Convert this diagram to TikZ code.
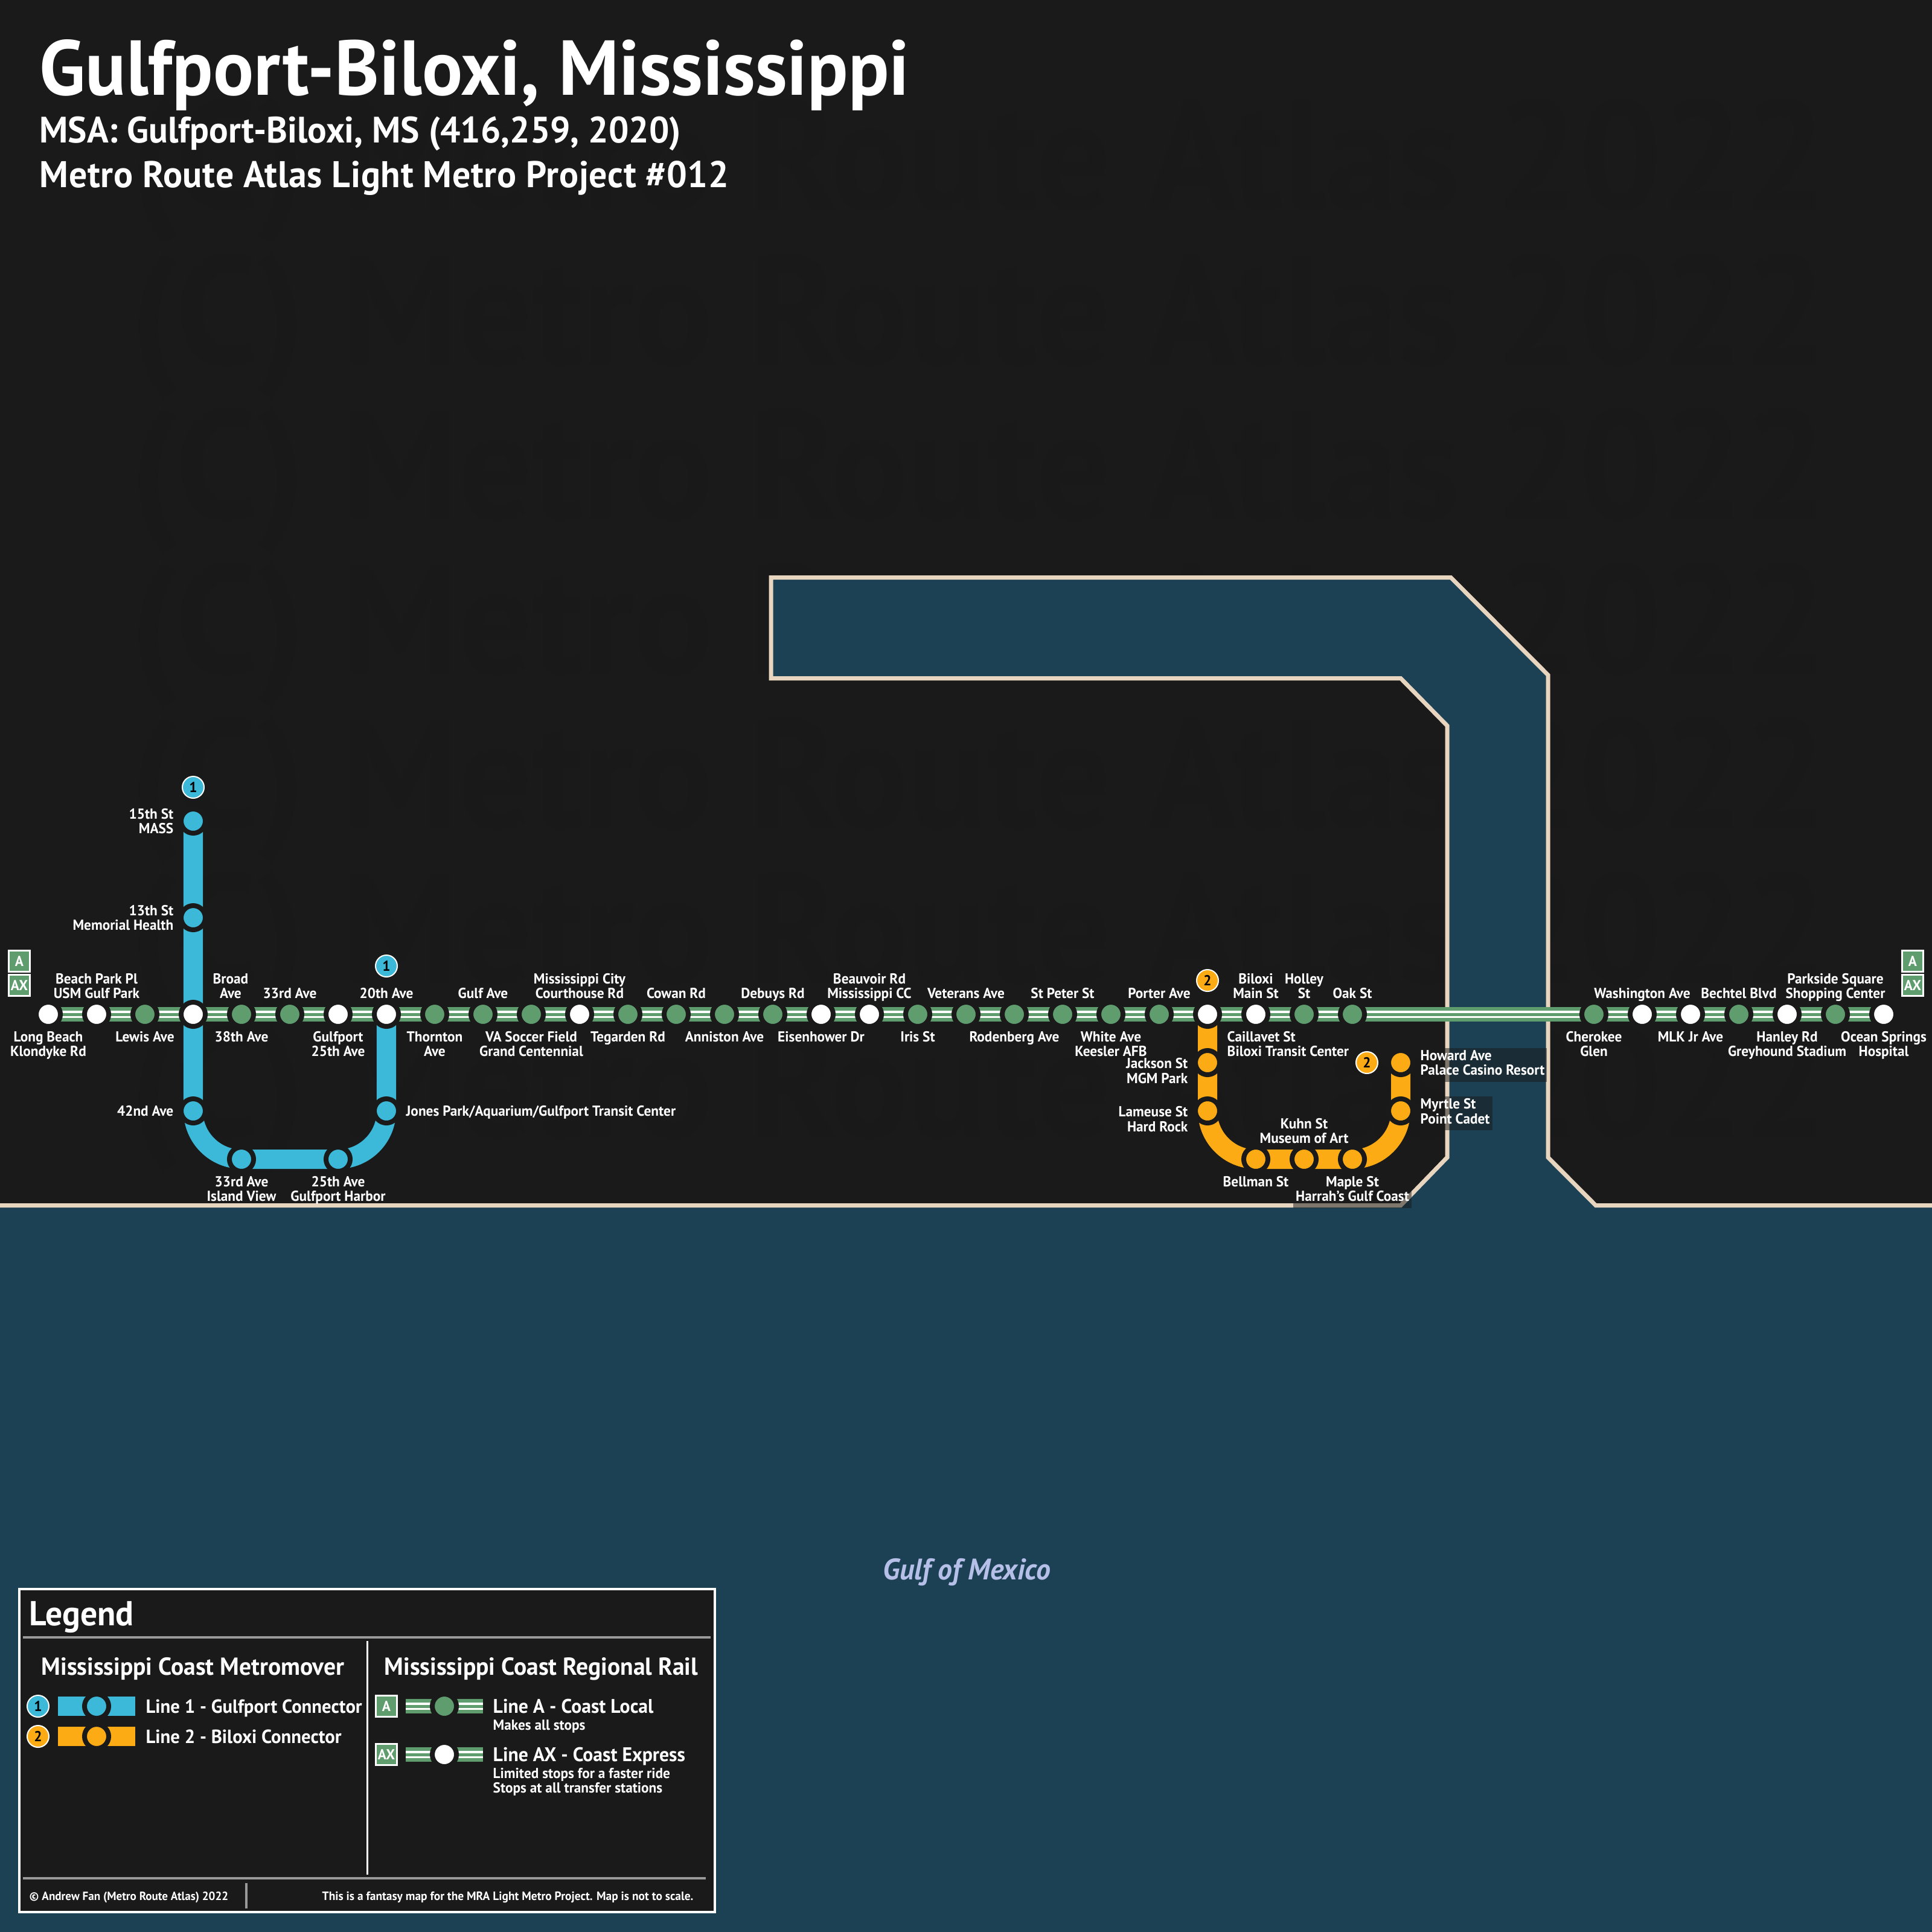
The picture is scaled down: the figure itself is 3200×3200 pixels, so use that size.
\documentclass[tikz,border=0pt]{standalone}
\usepackage{fontspec}
\setmainfont[FakeStretch=0.97]{PT Sans}
\newfontfamily\ghostfont[FakeStretch=0.94]{PT Sans}
\definecolor{land}{HTML}{1A1A1A}
\definecolor{ghost}{HTML}{191919}
\definecolor{water}{HTML}{1C4155}
\definecolor{coast}{HTML}{E8D5C0}
\definecolor{lineblue}{HTML}{3CB8D8}
\definecolor{lineorange}{HTML}{FDAB14}
\definecolor{railgreen}{HTML}{5F9C6E}
\definecolor{rulegrey}{HTML}{999999}
\definecolor{gulfblue}{HTML}{B5BFE8}
\tikzset{
  stop/.style={circle,draw=land,line width=.08cm,minimum size=.40cm,inner sep=0pt},
  stnlabel/.style={font=\bfseries\fontsize{6.83}{6.83}\selectfont,text=white,align=center,inner sep=0pt,
    execute at begin node=\strut,execute at end node=\strut},
  sideup/.style={anchor=south,yshift=.19cm},
  sidedown/.style={anchor=north,yshift=-.28cm},
  shaded/.style={fill=land,fill opacity=.5,text opacity=1,inner sep=.04cm},
  metro/.style={line width=.32cm},
  rail/.style={preaction={draw=railgreen,line width=.24cm},preaction={draw=white,line width=.12cm},
    draw=railgreen,line width=.05cm},
  badge/.style={circle,draw=white,line width=.02cm,minimum size=.36cm,inner sep=0pt,text=black,
    font=\bfseries\fontsize{6.83}{6.83}\selectfont},
  railbox/.style={rectangle,fill=railgreen,draw=white,line width=.03cm,minimum size=.35cm,inner sep=0pt,text=white,
    font=\bfseries\fontsize{6.83}{6.83}\selectfont},
  txt/.style={text=white,inner sep=0pt,anchor=base west},
  legrule/.style={draw=rulegrey,line width=.035cm}
}
\begin{document}
\begin{tikzpicture}[x=.01cm,y=-.01cm]
    \useasboundingbox (0,0) rectangle (3200,3200);
    \clip (0,0) rectangle (3200,3200);
    \fill[land] (0,0) rectangle (3200,3200);

    % Faint rows behind the map
    \foreach \ypos [count=\i] in {347,603,859,1115,1371,1627,1883} {
        \node[text=ghost,inner sep=0pt,anchor=base west,font=\ghostfont\bfseries\fontsize{73}{73}\selectfont] (ghost\i) at (216,\ypos) {(C) Metro Route Atlas 2022};
    }

    % Water and coast
    \draw[fill=water,draw=coast,line width=.07cm,miter limit=4]
        (1277,956.5) -- (2403,956.5) -- (2564,1118) -- (2564,1917) -- (2643,1996.5) -- (3220,1996.5)
        -- (3220,3220) -- (-20,3220) -- (-20,1996.5) -- (2320,1996.5) -- (2397,1917) -- (2397,1202)
        -- (2320,1123.5) -- (1277,1123.5) -- cycle;

    % Define stops of the main line: x / colour / side / name
    \def\mainstops{%
      80/white/sidedown/{Long Beach\\Klondyke Rd},%
      160/white/sideup/{Beach Park Pl\\USM Gulf Park},%
      240/railgreen/sidedown/{Lewis Ave},%
      400/railgreen/sidedown/{38th Ave},%
      480/railgreen/sideup/{33rd Ave},%
      560/white/sidedown/{Gulfport\\25th Ave},%
      640/white/sideup/{20th Ave},%
      720/railgreen/sidedown/{Thornton\\Ave},%
      800/railgreen/sideup/{Gulf Ave},%
      880/railgreen/sidedown/{VA Soccer Field\\Grand Centennial},%
      960/white/sideup/{Mississippi City\\Courthouse Rd},%
      1040/railgreen/sidedown/{Tegarden Rd},%
      1120/railgreen/sideup/{Cowan Rd},%
      1200/railgreen/sidedown/{Anniston Ave},%
      1280/railgreen/sideup/{Debuys Rd},%
      1360/white/sidedown/{Eisenhower Dr},%
      1440/white/sideup/{Beauvoir Rd\\Mississippi CC},%
      1520/railgreen/sidedown/{Iris St},%
      1600/railgreen/sideup/{Veterans Ave},%
      1680/railgreen/sidedown/{Rodenberg Ave},%
      1760/railgreen/sideup/{St Peter St},%
      1840/railgreen/sidedown/{White Ave\\Keesler AFB},%
      1920/railgreen/sideup/{Porter Ave},%
      2080/white/sideup/{Biloxi\\Main St},%
      2160/railgreen/sideup/{Holley\\St},%
      2240/railgreen/sideup/{Oak St},%
      2640/railgreen/sidedown/{Cherokee\\Glen},%
      2720/white/sideup/{Washington Ave},%
      2800/white/sidedown/{MLK Jr Ave},%
      2880/railgreen/sideup/{Bechtel Blvd},%
      2960/white/sidedown/{Hanley Rd\\Greyhound Stadium},%
      3040/railgreen/sideup/{Parkside Square\\Shopping Center},%
      3120/white/sidedown/{Ocean Springs\\Hospital}%
    }

    % Define stops of the two connectors: name / x / y / colour
    \def\connectorstops{%
      a320/320/1680/white,a2000/2000/1680/white,%
      b15/320/1360/lineblue,b13/320/1520/lineblue,b42/320/1840/lineblue,%
      b33/400/1920/lineblue,b25/560/1920/lineblue,bjones/640/1840/lineblue,%
      ojackson/2000/1760/lineorange,olameuse/2000/1840/lineorange,%
      obellman/2080/1920/lineorange,okuhn/2160/1920/lineorange,omaple/2240/1920/lineorange,%
      omyrtle/2320/1840/lineorange,ohoward/2320/1760/lineorange%
    }

    % Place coordinates first, the lines go under the stops
    \coordinate (aw) at (80,1680);
    \coordinate (ae) at (3120,1680);
    \coordinate (blue top) at (320,1360);
    \coordinate (blue low) at (560,1920);
    \coordinate (blue end) at (640,1680);
    \coordinate (orange top) at (2000,1680);
    \coordinate (orange low) at (2240,1920);
    \coordinate (orange end) at (2320,1760);

    % Draw lines
    \draw[metro,draw=lineblue,rounded corners=.8cm] (blue top) |- (blue low -| blue end) -- (blue end);
    \draw[metro,draw=lineorange,rounded corners=.8cm] (orange top) |- (orange low -| orange end) -- (orange end);
    \draw[rail] (aw) -- (ae);

    % Draw stops and labels of the main line
    \foreach \x/\col/\side/\name in \mainstops {
        \node[stop,fill=\col] (a\x) at (\x,1680) {};
        \node[stnlabel,\side] (la\x) at (\x,1680) {\name};
    }
    \foreach \id/\x/\y/\col in \connectorstops {
        \node[stop,fill=\col] (\id) at (\x,\y) {};
    }

    % Labels with their own places
    \node[stnlabel,anchor=south west] (lbroad) at (352,1661) {Broad\\Ave};
    \node[stnlabel,anchor=north west,align=left] (lcaillavet) at (2032,1708) {Caillavet St\\Biloxi Transit Center};
    \node[stnlabel,anchor=east,align=right] (l15) at (288,1364) {15th St\\MASS};
    \node[stnlabel,anchor=east,align=right] (l13) at (288,1524) {13th St\\Memorial Health};
    \node[stnlabel,anchor=east,align=right] (l42) at (288,1844) {42nd Ave};
    \node[stnlabel,anchor=west,align=left] (ljones) at (672,1844) {Jones Park/Aquarium/Gulfport Transit Center};
    \node[stnlabel,anchor=north] (l33) at (400,1948) {33rd Ave\\Island View};
    \node[stnlabel,anchor=north] (l25) at (560,1948) {25th Ave\\Gulfport Harbor};
    \node[stnlabel,anchor=east,align=right] (ljackson) at (1968,1777) {Jackson St\\MGM Park};
    \node[stnlabel,anchor=east,align=right] (llameuse) at (1968,1857) {Lameuse St\\Hard Rock};
    \node[stnlabel,anchor=south] (lkuhn) at (2160,1901) {Kuhn St\\Museum of Art};
    \node[stnlabel,anchor=north] (lbellman) at (2080,1948) {Bellman St};
    \node[stnlabel,shaded,anchor=north] (lmaple) at (2240,1944) {Maple St\\Harrah's Gulf Coast};
    \node[stnlabel,shaded,anchor=west,align=left] (lhoward) at (2348,1764) {Howard Ave\\Palace Casino Resort};
    \node[stnlabel,shaded,anchor=west,align=left] (lmyrtle) at (2348,1844) {Myrtle St\\Point Cadet};

    % Line badges
    \node[badge,fill=lineblue] (badge1a) at (320,1304) {1};
    \node[badge,fill=lineblue] (badge1b) at (640,1600) {1};
    \node[badge,fill=lineorange] (badge2a) at (2000,1624) {2};
    \node[badge,fill=lineorange] (badge2b) at (2264,1760) {2};
    \node[railbox] (west a) at (32,1592) {A};
    \node[railbox] (west ax) at (32,1632) {AX};
    \node[railbox] (east a) at (3168,1592) {A};
    \node[railbox] (east ax) at (3168,1632) {AX};

    % Title
    \node[txt,font=\bfseries\fontsize{36.65}{36.65}\selectfont] (title) at (65,158) {Gulfport-Biloxi, Mississippi};
    \node[txt,font=\bfseries\fontsize{17.3}{17.3}\selectfont] (subtitle) at (65,237) {MSA: Gulfport-Biloxi, MS (416,259, 2020)};
    \node[txt,font=\addfontfeature{LetterSpace=1.2}\bfseries\fontsize{17.5}{17.5}\selectfont] (project) at (65,310) {Metro Route Atlas Light Metro Project \#012};
    \node[text=gulfblue,inner sep=0pt,font=\bfseries\itshape\fontsize{14}{14}\selectfont] (gulf) at (1601,2604) {Gulf of Mexico};

    % Legend
    \draw[fill=land,draw=white,line width=.04cm] (32,2632) rectangle (1184,3167);
    \draw[legrule] (38,2712) -- (1177,2712);
    \draw[legrule] (38,3111) -- (1169,3111);
    \draw[draw=white,line width=.03cm] (608,2718) -- (608,3105);
    \draw[legrule] (408,3119) -- (408,3161);
    \node[txt,font=\bfseries\fontsize{16.3}{16.3}\selectfont] (legend) at (48,2692) {Legend};
    \node[txt,font=\bfseries\fontsize{11.6}{11.6}\selectfont] (head metro) at (68,2774) {Mississippi Coast Metromover};
    \node[txt,font=\bfseries\fontsize{11.6}{11.6}\selectfont] (head rail) at (636,2774) {Mississippi Coast Regional Rail};

    % Legend keys: y / colour / number / text
    \foreach \y/\col/\num/\name in {2826/lineblue/1/{Line 1 - Gulfport Connector},2876/lineorange/2/{Line 2 - Biloxi Connector}} {
        \node[badge,fill=\col] (key badge \num) at (63,\y) {\num};
        \coordinate (key w \num) at (96,\y);
        \coordinate (key e \num) at (224,\y);
        \draw[metro,draw=\col] (key w \num) -- (key e \num);
        \node[stop,fill=\col] (key stop \num) at (160,\y) {};
        \node[txt,font=\bfseries\fontsize{9}{9}\selectfont] (key text \num) at (241,\y+11) {\name};
    }
    \foreach \y/\col/\num/\name in {2826/railgreen/A/{Line A - Coast Local},2906/white/AX/{Line AX - Coast Express}} {
        \node[railbox] (key box \num) at (640,\y) {\num};
        \coordinate (key w \num) at (672,\y);
        \coordinate (key e \num) at (800,\y);
        \draw[rail] (key w \num) -- (key e \num);
        \node[stop,fill=\col] (key stop \num) at (736,\y) {};
        \node[txt,font=\bfseries\fontsize{9.3}{9.3}\selectfont] (key text \num) at (816,\y+11) {\name};
    }
    \node[txt,font=\bfseries\fontsize{6.83}{6.83}\selectfont] (note a) at (816,2865) {Makes all stops};
    \node[txt,font=\bfseries\fontsize{6.83}{6.83}\selectfont] (note ax one) at (816,2945) {Limited stops for a faster ride};
    \node[txt,font=\bfseries\fontsize{6.83}{6.83}\selectfont] (note ax two) at (816,2969) {Stops at all transfer stations};
    \node[txt,font=\bfseries\fontsize{5.6}{5.6}\selectfont] (copy) at (48,3147) {© Andrew Fan (Metro Route Atlas) 2022};
    \node[txt,font=\bfseries\fontsize{5.7}{5.7}\selectfont] (fantasy) at (533,3147) {This is a fantasy map for the MRA Light Metro Project. Map is not to scale.};
\end{tikzpicture}
\end{document}
